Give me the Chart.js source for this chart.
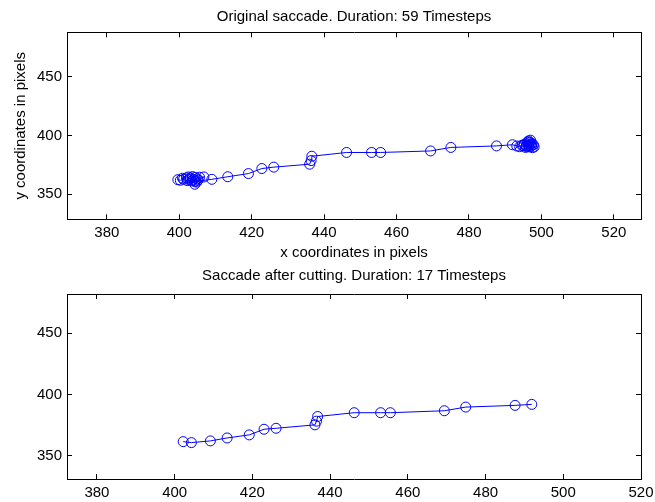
<!DOCTYPE html>
<html>
<head>
<meta charset="utf-8">
<script src="https://cdn.jsdelivr.net/npm/chart.js@4/dist/chart.umd.min.js"></script>
<style>
  body{margin:0;background:#fff;width:655px;height:502px;overflow:hidden;position:relative;}
  #top-wrap{position:absolute;left:0;top:0;width:655px;height:262px;}
  #bottom-wrap{position:absolute;left:0;top:262px;width:655px;height:240px;}
</style>
</head>
<body>
<div id="top-wrap"><canvas id="orig-chart" width="655" height="262"></canvas></div>
<div id="bottom-wrap"><canvas id="cut-chart" width="655" height="240"></canvas></div>
<script>
// original saccade, 59 timesteps (x / y in screen pixels)
const origX = [
  399.6,400.3,401.2,400.9,402.0,402.6,403.1,403.7,404.4,405.0,405.6,406.8,405.2,404.5,404.0,403.5,404.3,404.8,403.0,402.5,402.2,404.3,
  409.0,413.4,419.1,422.8,426.1,436.0,436.4,436.6,446.2,453.1,455.6,469.4,475.0,487.6,492.0,
  493.2,494.0,494.6,495.3,495.0,495.8,496.4,496.0,496.8,496.5,497.0,496.2,497.4,497.8,497.2,498.0,497.5,496.6,495.6,496.9,495.9,497.3
];
const origY = [
  362.3,361.8,362.6,363.5,363.8,362.4,363.9,364.9,364.2,363.1,364.4,364.6,362.0,361.2,362.5,361.3,358.4,360.2,362.9,364.6,361.5,360.7,
  362.6,364.8,367.5,371.8,373.0,375.5,378.6,382.3,385.5,385.5,385.5,386.8,389.8,391.1,392.1,
  391.0,390.4,391.6,392.5,391.2,390.6,391.8,393.0,394.2,395.4,396.0,394.6,393.2,392.0,391.0,390.2,389.6,390.3,389.8,392.6,391.5,391.8
];

// after cutting, 17 timesteps
const cutX = [402.2,404.3,409.2,413.5,419.2,423.0,426.1,436.1,436.5,436.8,446.2,453.0,455.5,469.4,474.9,487.6,491.9];
const cutY = [361.5,360.7,362.1,364.5,367.0,371.6,372.4,375.2,378.2,382.0,385.1,385.1,385.1,386.7,389.7,391.1,391.9];

const xTicks = [380,400,420,440,460,480,500,520];
const yTicks = [350,400,450];

const origTitle = "Original saccade. Duration: 59 Timesteps";
const cutTitle = "Saccade after cutting. Duration: 17 Timesteps";

const FONT = {family:"'Liberation Sans', Arial, Helvetica, sans-serif", size:15};
Chart.defaults.font = FONT;
Chart.defaults.color = "#000";

// matlab style box: inward ticks on all 4 sides
function axis(pos, min, max, ticks, opts){
  const horiz = pos==="top" || pos==="bottom";
  const main = pos==="bottom" || pos==="left";
  return {
    type:"linear", position:pos, min, max,
    afterBuildTicks: s => { s.ticks = ticks.map(v=>({value:v})); },
    afterFit: s => {
      if(horiz) s.height = opts.size; else s.width = opts.size;
      // labels at the edge must not shrink the plot box
      s.paddingLeft = s.paddingRight = s.paddingTop = s.paddingBottom = 0;
    },
    grid:{drawOnChartArea:false, drawTicks:true, tickLength:-5, color:"#000", lineWidth:1},
    border:{display:true, color:"#000", width:1},
    ticks:{display:main, padding:opts.pad || 0, maxRotation:0, autoSkip:false, font:FONT, color:"#000"},
    title: opts.title ? {display:true, text:opts.title, font:FONT, color:"#000", padding:opts.titlePad} : {display:false}
  };
}

function makeChart(id, xs, ys, cfg){
  const pts = xs.map((x,i)=>({x, y:ys[i]}));
  return new Chart(document.getElementById(id).getContext("2d"), {
    type:"scatter",
    data:{datasets:[{
      data:pts, showLine:true, borderColor:"#0000ff", borderWidth:1,
      pointStyle:"circle", pointRadius:5, pointBorderColor:"#0000ff", pointBorderWidth:1,
      pointBackgroundColor:"rgba(0,0,0,0)", tension:0
    }]},
    options:{
      responsive:false, animation:false,
      layout:{padding:{left:0, right:14, top:0, bottom:0}},
      plugins:{
        legend:{display:false}, tooltip:{enabled:false},
        title:{display:true, text:cfg.title, fullSize:false, font:{...FONT, weight:"normal"}, color:"#000", padding:cfg.titlePad}
      },
      scales:{
        x: axis("bottom", cfg.xMin, cfg.xMax, xTicks, {size:cfg.xSize, pad:10, title:cfg.xTitle, titlePad:{top:0,bottom:0}}),
        x2: axis("top", cfg.xMin, cfg.xMax, xTicks, {size:0}),
        y: axis("left", cfg.yMin, cfg.yMax, yTicks, {size:67, pad:10, title:cfg.yTitle, titlePad:{top:12,bottom:0}}),
        y2: axis("right", cfg.yMin, cfg.yMax, yTicks, {size:0})
      }
    }
  });
}

makeChart("orig-chart", origX, origY, {
  title:origTitle, titlePad:{top:8,bottom:6.3},
  xMin:369, xMax:527.5, yMin:328.5, yMax:488,
  xSize:42.7,
  xTitle:"x coordinates in pixels", yTitle:"y coordinates in pixels"
});

makeChart("cut-chart", cutX, cutY, {
  title:cutTitle, titlePad:{top:5,bottom:9},
  xMin:372.3, xMax:520, yMin:331, yMax:482,
  xSize:23
});
</script>
</body>
</html>
